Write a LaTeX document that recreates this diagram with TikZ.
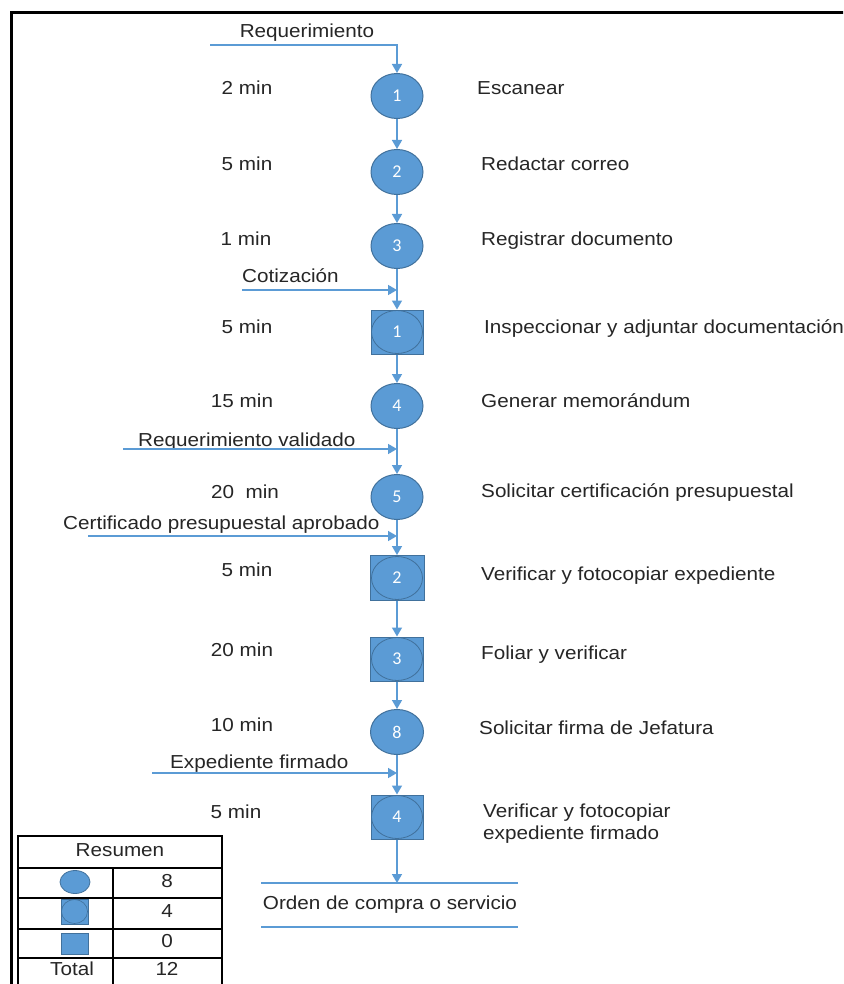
\documentclass[tikz,border=0pt]{standalone}
\usepackage{graphicx}
\usepackage{fontspec}
\setmainfont{Liberation Sans}
\newfontfamily\numfont{Carlito}
\usetikzlibrary{shapes.geometric,arrows.meta}
\definecolor{obl}{HTML}{5B9BD5}
\definecolor{obd}{HTML}{41719C}
\definecolor{txt}{HTML}{262626}
\newcommand{\hs}[1]{\scalebox{1.1}[1]{#1}}
\begin{document}
\begin{tikzpicture}[x=1pt,y=-1pt,
  lbl/.style={text=txt, font=\fontsize{18.8}{22}\selectfont, inner sep=0pt, text height=13.5pt, text depth=3.5pt},
  op/.style={ellipse, fill=obl, draw=obd, line width=1pt, minimum width=52pt, minimum height=45pt, inner sep=0pt, text=white, font=\numfont\fontsize{18}{18}\selectfont},
  insp/.style={rectangle, fill=obl, draw=obd, line width=1pt, minimum width=52pt, minimum height=44pt, inner sep=0pt, text=white, font=\numfont\fontsize{18}{18}\selectfont,
    path picture={\draw[obd,line width=0.8pt] (path picture bounding box.center) ellipse (25.5pt and 21.5pt);}},
  flow/.style={obl, line width=1.5pt, -{Triangle[width=10pt,length=9pt]}},
  bline/.style={obl, line width=1.5pt},
  tline/.style={black, line width=1.3pt},
]
\useasboundingbox (0,0) rectangle (843,984);
\clip (0,0) rectangle (843,984);
\fill[white] (0,0) rectangle (843,984);
% frame
\draw[black, line width=3pt] (11,1000) -- (11,13) -- (860,13);

% process nodes
\node[op]   (c1) at (397,96)  {1};
\node[op]   (c2) at (397,172) {2};
\node[op]   (c3) at (397,246) {3};
\node[insp] (s1) at (397,332) {1};
\node[op]   (c4) at (397,406) {4};
\node[op]   (c5) at (397,497) {5};
\node[insp,minimum width=54pt,minimum height=45pt] (s2) at (397,578) {2};
\node[insp,minimum width=53pt] (s3) at (397,659) {3};
\node[op,minimum width=53pt]   (c8) at (397,732) {8};
\node[insp] (s4) at (397,817) {4};

% start input
\coordinate (rq0) at (210,45);
\coordinate (rq1) at (397,45);
\node[lbl] (rqt) at (307,33) {\hs{Requerimiento}};
\draw[flow] (rq0) -- (rq1) -- (c1.north);

% main flow
\draw[flow] (c1) -- (c2);
\draw[flow] (c2) -- (c3);
\draw[flow] (c3) -- (s1);
\draw[flow] (s1) -- (c4);
\draw[flow] (c4) -- (c5);
\draw[flow] (c5) -- (s2);
\draw[flow] (s2) -- (s3);
\draw[flow] (s3) -- (c8);
\draw[flow] (c8) -- (s4);
\coordinate (endtop) at (397,883);
\draw[flow] (s4) -- (endtop);

% side inputs
\coordinate (cot0) at (242,290);
\node[lbl,anchor=west] (cott) at (242,277) {\hs{Cotización}};
\draw[flow] (cot0) -- (cot0 -| c3.south);

\coordinate (rv0) at (123,449);
\node[lbl,anchor=west] (rvt) at (138,441) {\hs{Requerimiento validado}};
\draw[flow] (rv0) -- (rv0 -| c4.south);

\coordinate (cp0) at (88,536);
\node[lbl,anchor=west] (cpt) at (63,524) {\hs{Certificado presupuestal aprobado}};
\draw[flow] (cp0) -- (cp0 -| c5.south);

\coordinate (ef0) at (152,773);
\node[lbl,anchor=west] (eft) at (170,763) {\hs{Expediente firmado}};
\draw[flow] (ef0) -- (ef0 -| c8.south);

% times
\node[lbl] (t1)  at (247,90)  {\hs{2 min}};
\node[lbl] (t2)  at (247,166) {\hs{5 min}};
\node[lbl] (t3)  at (246,241) {\hs{1 min}};
\node[lbl] (t4)  at (247,328) {\hs{5 min}};
\node[lbl] (t5)  at (242,402) {\hs{15 min}};
\node[lbl] (t6)  at (245,493) {\hs{20\ \ min}};
\node[lbl] (t7)  at (247,571) {\hs{5 min}};
\node[lbl] (t8)  at (242,651) {\hs{20 min}};
\node[lbl] (t9)  at (242,726) {\hs{10 min}};
\node[lbl] (t10) at (236,813) {\hs{5 min}};

% descriptions
\node[lbl,anchor=west] (d1)  at (477,90)  {\hs{Escanear}};
\node[lbl,anchor=west] (d2)  at (481,166) {\hs{Redactar correo}};
\node[lbl,anchor=west] (d3)  at (481,241) {\hs{Registrar documento}};
\node[lbl,anchor=west] (d4)  at (484,328) {\hs{Inspeccionar y adjuntar documentación}};
\node[lbl,anchor=west] (d5)  at (481,402) {\hs{Generar memorándum}};
\node[lbl,anchor=west] (d6)  at (481,492) {\hs{Solicitar certificación presupuestal}};
\node[lbl,anchor=west] (d7)  at (481,575) {\hs{Verificar y fotocopiar expediente}};
\node[lbl,anchor=west] (d8)  at (481,654) {\hs{Foliar y verificar}};
\node[lbl,anchor=west] (d9)  at (479,729) {\hs{Solicitar firma de Jefatura}};
\node[lbl,anchor=west] (d10) at (483,812) {\hs{Verificar y fotocopiar}};
\node[lbl,anchor=west] (d11) at (483,834) {\hs{expediente firmado}};

% end
\draw[bline] (261,883) -- (518,883);
\draw[bline] (261,927) -- (518,927);
\node[lbl] (endt) at (390,904) {\hs{Orden de compra o servicio}};

% summary table
\draw[tline] (18,836) rectangle (222,992);
\draw[tline] (18,868) -- (222,868);
\draw[tline] (18,898) -- (222,898);
\draw[tline] (18,929) -- (222,929);
\draw[tline] (18,958) -- (222,958);
\draw[tline] (113,868) -- (113,992);
\node[lbl] (res) at (120,851) {\hs{Resumen}};
\node[lbl] (n8)  at (167,882) {\hs{8}};
\node[lbl] (n4)  at (167,912) {\hs{4}};
\node[lbl] (n0)  at (167,942) {\hs{0}};
\node[lbl] (tot) at (72,970)  {\hs{Total}};
\node[lbl] (n12) at (167,970) {\hs{12}};
\node[ellipse, fill=obl, draw=obd, line width=0.8pt, minimum width=30pt, minimum height=23pt, inner sep=0pt] (lc) at (75,882) {};
\node[rectangle, fill=obl, draw=obd, line width=0.8pt, minimum width=27pt, minimum height=25pt, inner sep=0pt,
  path picture={\draw[obd,line width=0.6pt] (path picture bounding box.center) ellipse (13pt and 12pt);}] (ls) at (74.5,911.5) {};
\node[rectangle, fill=obl, draw=obd, line width=0.8pt, minimum width=27pt, minimum height=21pt, inner sep=0pt] (lq) at (74.5,943.5) {};
\end{tikzpicture}
\end{document}
